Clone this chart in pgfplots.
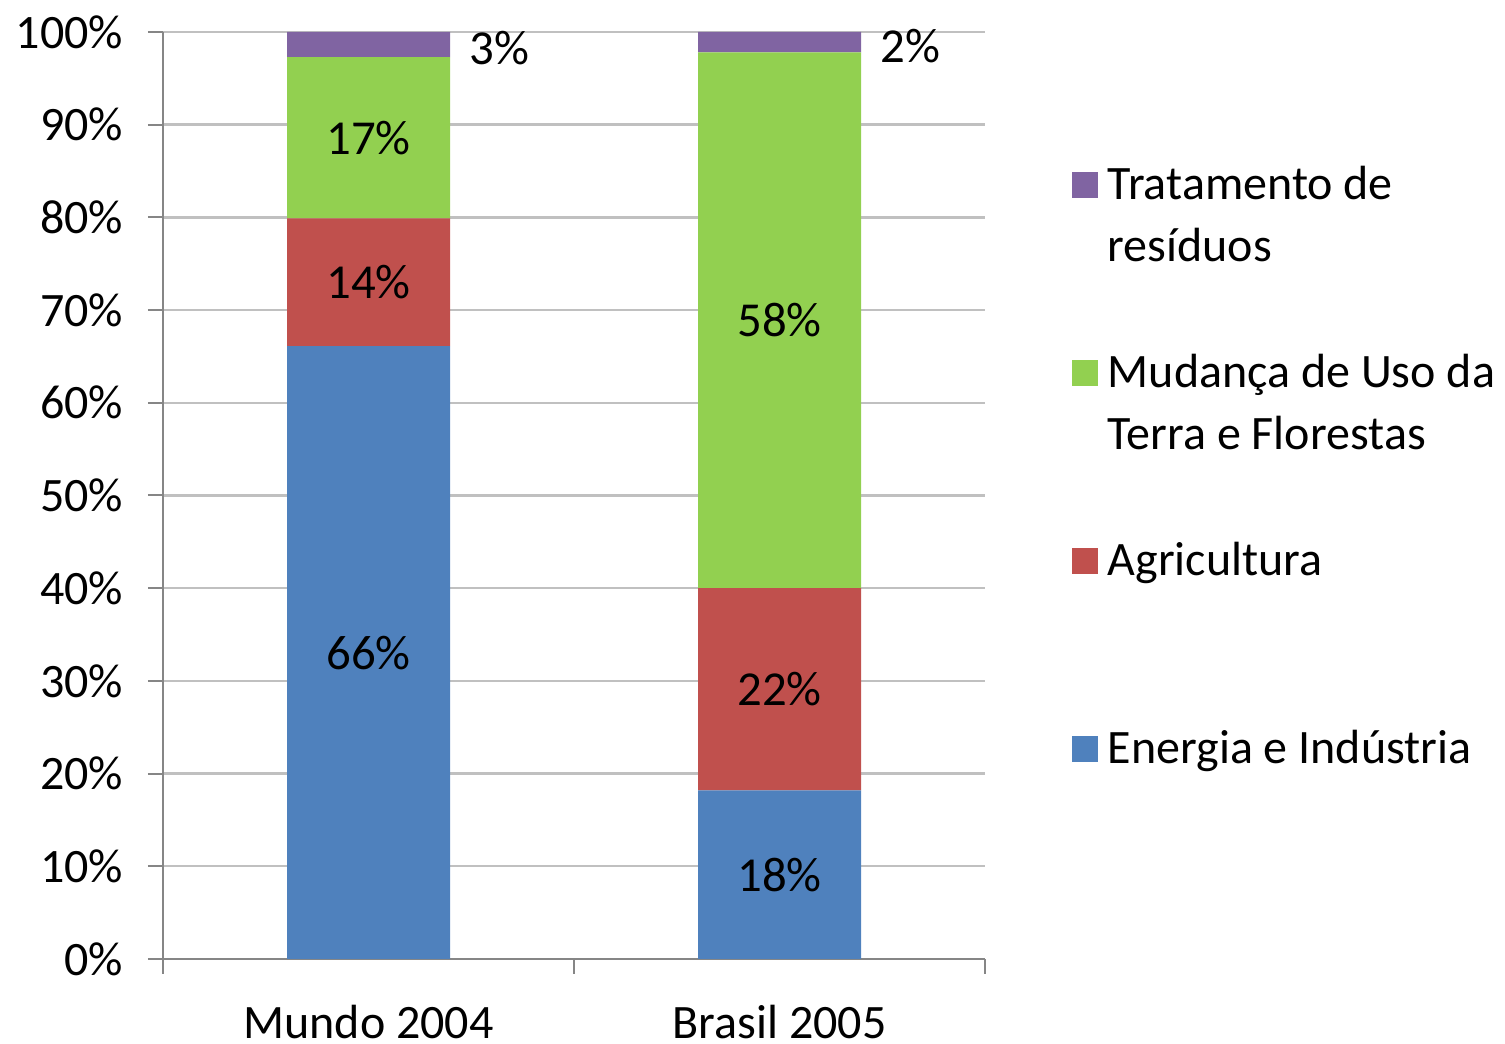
\documentclass[border=0pt]{standalone}
\usepackage{fontspec}
\setmainfont{Carlito}
\usepackage{pgfplots}
\pgfplotsset{compat=1.18}

\definecolor{energia}{RGB}{79,129,189}
\definecolor{agric}{RGB}{192,80,77}
\definecolor{mudanca}{RGB}{146,208,80}
\definecolor{residuos}{RGB}{128,100,162}
\definecolor{axisgray}{RGB}{134,134,134}
\definecolor{gridgray}{RGB}{192,192,192}

\begin{document}
\begin{tikzpicture}
\begin{axis}[
  at={(40.75pt,21.25pt)}, anchor=south west,
  scale only axis, width=205.5pt, height=231.75pt,
  ybar stacked, bar width=40.75pt,
  xmin=-0.5, xmax=1.5, ymin=0, ymax=100,
  axis x line*=bottom, axis y line*=left,
  axis line style={draw=axisgray, line width=0.5pt},
  tick align=outside, major tick length=3.75pt,
  tick style={draw=axisgray, line width=0.5pt},
  xtick={-0.5,0.5,1.5}, xticklabels={},
  extra x ticks={0,1}, extra x tick labels={Mundo 2004,Brasil 2005},
  extra x tick style={major tick length=0pt, grid=none},
  xticklabel style={font=\fontsize{12}{14}\selectfont, inner sep=0pt, anchor=north, yshift=-11.25pt},
  ytick={0,10,...,100},
  yticklabel={\pgfmathprintnumber{\tick}\%},
  yticklabel style={font=\fontsize{12}{14}\selectfont, inner sep=0pt, anchor=east, xshift=-6pt},
  /pgf/number format/assume math mode=true,
  ymajorgrids, grid style={draw=gridgray, line width=0.6pt},
  point meta=explicit symbolic,
  nodes near coords={\pgfplotspointmeta\%},
  % stacked labels already sit at the middle of each segment here
  every node near coord/.append style={anchor=center, text=black, inner sep=0pt,
    font=\fontsize{12.2}{14}\selectfont},
  reverse legend,
  legend image code/.code={\fill[#1] (0pt,0.3pt) rectangle (6.5pt,6.8pt);},
  legend style={draw=none, fill=none, at={(1.090,0.868)}, anchor=north west,
    font=\fontsize{12}{15.5}\selectfont, row sep=12pt,
    nodes={inner sep=0pt, text height=9pt, text depth=26pt}, cells={anchor=base west},
    /tikz/every odd column/.append style={column sep=2.5pt}},
]
\addplot+[fill=energia, draw=none] coordinates {(0,66.1) [66] (1,18.2) [18]};
\addplot+[fill=agric, draw=none] coordinates {(0,13.8) [14] (1,21.8) [22]};
\addplot+[fill=mudanca, draw=none] coordinates {(0,17.4) [17] (1,57.8) [58]};
\addplot+[fill=residuos, draw=none,
  every node near coord/.append style={anchor=west, xshift=25pt, yshift=-1pt}]
  coordinates {(0,2.7) [3] (1,2.2) [2]};
\legend{\parbox[t]{110pt}{Energia e Indústria},
  \parbox[t]{110pt}{Agricultura},
  \parbox[t]{110pt}{Mudança de Uso da\\Terra e Florestas},
  \parbox[t]{110pt}{Tratamento de\\resíduos}}
\end{axis}
\pgfresetboundingbox
\path (0,0) rectangle (376.25pt,261pt);
\end{tikzpicture}
\end{document}
